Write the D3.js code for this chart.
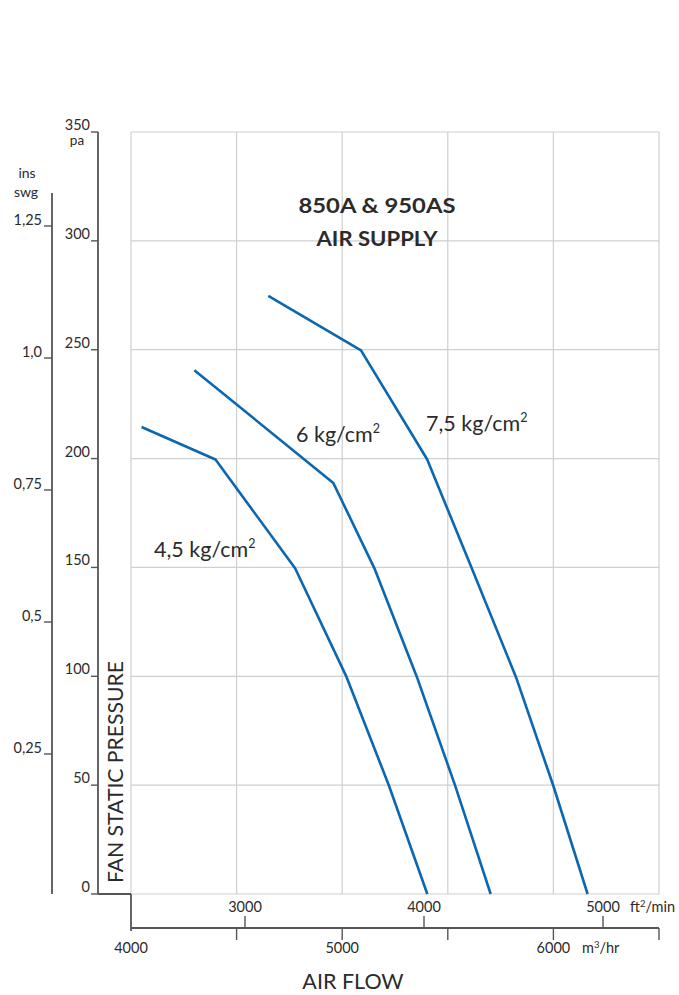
<!DOCTYPE html>
<html>
<head>
<meta charset="utf-8">
<script src="https://cdn.jsdelivr.net/npm/d3@7"></script>
<style>
  html, body { margin: 0; padding: 0; background: #fff; }
  svg { display: block; }
  text { font-family: Lato, "Open Sans", "DejaVu Sans", sans-serif; fill: #2b2b2b; }
</style>
</head>
<body>
<svg id="chart" width="679" height="995"></svg>
<script>
// ---- data ----
const seriesNames = ["4,5", "6", "7,5"];
// airflow in m³/hr, pressure in pa
const flow45 = [4050, 4400, 4777, 5021, 5222, 5403];
const pa45   = [214.5, 199.6, 149.6, 99.6, 49.6, 0];
const flow6  = [4300, 4958, 5152, 5354, 5534, 5703];
const pa6    = [240.6, 188.8, 149.7, 99.6, 50, 0];
const flow75 = [4650, 5089, 5402, 5613, 5823, 6000, 6162];
const pa75   = [274.7, 249.7, 199.7, 149.7, 99.6, 49.6, 0];

const paTicks   = [0, 50, 100, 150, 200, 250, 300, 350];
const inchTicks = [0.25, 0.5, 0.75, 1.0, 1.25];
const inchLabels = ["0,25", "0,5", "0,75", "1,0", "1,25"];
const m3Ticks   = [4000, 5000, 6000];
const m3Minor   = [4500, 5500, 6500];
const ftTicks   = [3000, 4000, 5000];
const gridX     = [4000, 4500, 5000, 5500, 6000, 6500];

// ---- scales ----
const x   = d3.scaleLinear().domain([4000, 6500]).range([131, 659]);
const y   = d3.scaleLinear().domain([0, 350]).range([894, 132]);
const yIn = d3.scaleLinear().domain([0.25, 1.25]).range([754, 226]);
const xFt = d3.scaleLinear().domain([3000, 5000]).range([245, 603]);

const svg = d3.select("#chart");
const axisColor = "#555";
const tickFont = 14.5;

// ---- grid ----
const grid = svg.append("g");
grid.selectAll("line.v").data(gridX).enter().append("line")
  .attr("x1", d => x(d)).attr("x2", d => x(d))
  .attr("y1", y(350)).attr("y2", y(0))
  .attr("stroke", "#cfcfcf").attr("stroke-width", 1.2);
grid.selectAll("line.h").data(paTicks).enter().append("line")
  .attr("x1", x(4000)).attr("x2", x(6500))
  .attr("y1", d => y(d)).attr("y2", d => y(d))
  .attr("stroke", "#cfcfcf").attr("stroke-width", 1.2);

// ---- pa axis ----
const paAxis = svg.append("g");
paAxis.append("line").attr("x1", 98).attr("x2", 98)
  .attr("y1", y(350)).attr("y2", y(0))
  .attr("stroke", axisColor).attr("stroke-width", 1.8);
paAxis.selectAll("line.t").data(paTicks).enter().append("line")
  .attr("x1", 91).attr("x2", 98)
  .attr("y1", d => y(d)).attr("y2", d => y(d))
  .attr("stroke", axisColor).attr("stroke-width", 1.4);
paAxis.selectAll("text").data(paTicks).enter().append("text")
  .attr("x", 90).attr("y", d => y(d) - 2)
  .attr("text-anchor", "end").attr("font-size", tickFont)
  .text(d => d);
svg.append("text").attr("x", 77).attr("y", 145).attr("text-anchor", "middle")
  .attr("font-size", 13.5).text("pa");
// bottom connector
svg.append("line").attr("x1", 98).attr("x2", 131).attr("y1", y(0)).attr("y2", y(0))
  .attr("stroke", axisColor).attr("stroke-width", 1.8);

// ---- inch axis ----
const inAxis = svg.append("g");
inAxis.append("line").attr("x1", 52).attr("x2", 52)
  .attr("y1", 193).attr("y2", y(0))
  .attr("stroke", axisColor).attr("stroke-width", 1.8);
inAxis.selectAll("line.t").data(inchTicks).enter().append("line")
  .attr("x1", 44).attr("x2", 52)
  .attr("y1", d => yIn(d)).attr("y2", d => yIn(d))
  .attr("stroke", axisColor).attr("stroke-width", 1.4);
inAxis.selectAll("text").data(inchTicks).enter().append("text")
  .attr("x", 42).attr("y", d => yIn(d) - 1)
  .attr("text-anchor", "end").attr("font-size", tickFont)
  .text((d, i) => inchLabels[i]);
svg.append("text").attr("x", 27).attr("y", 178).attr("text-anchor", "middle")
  .attr("font-size", 14).text("ins");
svg.append("text").attr("x", 26).attr("y", 197).attr("text-anchor", "middle")
  .attr("font-size", 14).text("swg");

// ---- y title ----
svg.append("text")
  .attr("transform", "translate(123,883) rotate(-90)")
  .attr("font-size", 20.5)
  .attr("textLength", 222).attr("lengthAdjust", "spacingAndGlyphs")
  .text("FAN STATIC PRESSURE");

// ---- bottom axes ----
const bAxis = svg.append("g");
bAxis.append("line").attr("x1", 131).attr("x2", 131).attr("y1", y(0)).attr("y2", 931)
  .attr("stroke", axisColor).attr("stroke-width", 1.8);
bAxis.append("line").attr("x1", 131).attr("x2", 659).attr("y1", 928).attr("y2", 928)
  .attr("stroke", axisColor).attr("stroke-width", 1.8);
bAxis.selectAll("line.m3").data(m3Ticks.concat(m3Minor).filter(d => d !== 4000)).enter().append("line")
  .attr("x1", d => x(d)).attr("x2", d => x(d)).attr("y1", 928).attr("y2", 940)
  .attr("stroke", axisColor).attr("stroke-width", 1.4);
bAxis.selectAll("line.ft").data(ftTicks).enter().append("line")
  .attr("x1", d => xFt(d)).attr("x2", d => xFt(d)).attr("y1", 916).attr("y2", 928)
  .attr("stroke", axisColor).attr("stroke-width", 1.4);
bAxis.selectAll("text.m3").data(m3Ticks).enter().append("text")
  .attr("x", d => x(d)).attr("y", 953).attr("text-anchor", "middle")
  .attr("font-size", tickFont).text(d => d);
bAxis.selectAll("text.ft").data(ftTicks).enter().append("text")
  .attr("x", d => xFt(d)).attr("y", 912).attr("text-anchor", "middle")
  .attr("font-size", tickFont).text(d => d);
const ftUnit = svg.append("text").attr("x", 630).attr("y", 912).attr("font-size", tickFont);
ftUnit.append("tspan").text("ft");
ftUnit.append("tspan").attr("dy", -5).attr("font-size", 9.5).text("2");
ftUnit.append("tspan").attr("dy", 5).text("/min");
const m3Unit = svg.append("text").attr("x", 582).attr("y", 953).attr("font-size", tickFont);
m3Unit.append("tspan").text("m");
m3Unit.append("tspan").attr("dy", -5).attr("font-size", 9.5).text("3");
m3Unit.append("tspan").attr("dy", 5).text("/hr");

svg.append("text").attr("x", 353).attr("y", 989).attr("text-anchor", "middle")
  .attr("font-size", 21.5).text("AIR FLOW");

// ---- title ----
svg.append("text").attr("x", 377).attr("y", 213).attr("text-anchor", "middle")
  .attr("font-size", 20).attr("font-weight", "bold")
  .attr("textLength", 157).attr("lengthAdjust", "spacingAndGlyphs")
  .text("850A & 950AS");
svg.append("text").attr("x", 377).attr("y", 246).attr("text-anchor", "middle")
  .attr("font-size", 20).attr("font-weight", "bold")
  .attr("textLength", 121).attr("lengthAdjust", "spacingAndGlyphs")
  .text("AIR SUPPLY");

// ---- curves ----
const series = [
  { name: seriesNames[0], flow: flow45, pa: pa45, lx0: 154, ly: 557 },
  { name: seriesNames[1], flow: flow6,  pa: pa6,  lx0: 296, ly: 442 },
  { name: seriesNames[2], flow: flow75, pa: pa75, lx0: 426, ly: 431 }
];
const line = d3.line().x(d => x(d[0])).y(d => y(d[1]));
svg.append("g").selectAll("path").data(series).enter().append("path")
  .attr("d", s => line(s.flow.map((f, i) => [f, s.pa[i]])))
  .attr("fill", "none").attr("stroke", "#0b67b0").attr("stroke-width", 2.6)
  .attr("stroke-linejoin", "round");

series.forEach(s => {
  const t = svg.append("text").attr("x", s.lx0).attr("y", s.ly).attr("font-size", 21.5);
  t.append("tspan").text(s.name + " kg/cm");
  t.append("tspan").attr("dy", -9).attr("font-size", 12.5).text("2");
});
</script>
</body>
</html>
